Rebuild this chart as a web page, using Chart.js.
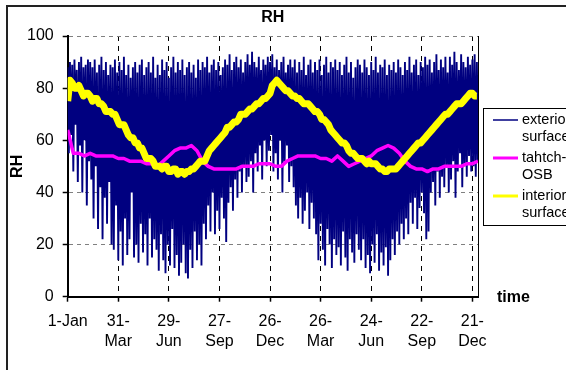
<!DOCTYPE html>
<html>
<head>
<meta charset="utf-8">
<title>RH</title>
<script src="https://cdn.jsdelivr.net/npm/chart.js@4.4.1/dist/chart.umd.min.js"></script>
<style>
  html, body { margin: 0; padding: 0; background: #fff; overflow: hidden; }
  #wrap { position: relative; width: 566px; height: 370px; overflow: hidden; }
  #frame { position: absolute; left: 6px; top: 5px; width: 700px; height: 500px; border: 2px solid #222; box-sizing: border-box; }
  #rhChart { position: absolute; left: 0; top: 0; }
</style>
</head>
<body>
<div id="wrap">
  <div id="frame"></div>
  <canvas id="rhChart" width="566" height="370"></canvas>
</div>
<script>
// Series names and legend wrapping
const seriesNames = ["exterior surface", "tahtch-OSB", "interior surface"];
const legendLines = [["exterior", "surface"], ["tahtch-", "OSB"], ["interior", "surface"]];
const seriesColors = ["#000080", "#FF00FF", "#FFFF00"];

// Time axis: days since 1-Jan, one tick every 90 days
const tickDays = [0, 90, 180, 270, 360, 450, 540, 630, 720];
const tickLabels = [["1-Jan"], ["31-", "Mar"], ["29-", "Jun"], ["27-", "Sep"], ["26-", "Dec"],
                    ["26-", "Mar"], ["24-", "Jun"], ["22-", "Sep"], ["21-", "Dec"]];
const yTicks = [0, 20, 40, 60, 80, 100];

// exterior surface RH, read every 2 days (swinging between night highs and day lows)
const exteriorStep = 2;
const exteriorRH = [
  88,55,90,62,89,48,91,66,87,44,90,58,92,40,88,60,89,35,91,52,
  90,45,88,30,91,50,86,26,89,42,92,22,87,38,90,28,85,44,89,20,
  88,18,91,35,86,14,90,25,87,12,92,30,85,16,89,22,84,40,88,15,
  90,20,86,13,89,28,91,17,85,24,88,12,90,30,86,15,92,22,84,18,
  89,10,85,24,91,14,87,9,90,20,84,12,88,26,92,11,86,16,90,8,
  87,13,91,20,85,9,88,7,90,18,86,11,89,25,84,14,91,20,87,12,
  90,28,88,22,92,35,86,25,89,40,91,24,87,33,90,26,85,38,88,30,
  91,21,89,36,93,42,87,33,90,45,92,38,88,48,91,40,86,50,90,44,
  93,46,89,52,94,40,90,55,88,48,92,58,87,45,91,60,89,50,92,56,
  90,62,93,48,88,55,91,45,87,60,90,40,92,52,86,58,89,44,91,50,
  88,42,91,35,86,30,90,38,87,28,92,33,85,40,89,26,91,36,86,30,
  90,24,87,14,91,28,85,18,89,12,92,26,86,20,90,11,88,22,91,16,
  87,19,90,12,85,25,89,15,92,10,86,22,90,17,84,13,88,24,91,18,
  89,14,86,22,91,11,88,16,85,9,90,20,87,13,92,24,86,10,89,17,
  88,12,91,19,85,8,89,14,87,22,90,16,86,25,91,20,88,28,85,22,
  90,30,87,24,92,36,86,28,89,38,91,26,85,34,90,40,88,32,92,22,
  89,25,91,40,86,44,90,35,93,48,87,38,91,46,88,42,92,50,86,40,
  92,45,89,52,94,38,90,48,87,55,93,42,90,50,88,46,92,54,89,48,
  91,50,93,46,90,52
];

// tahtch-OSB RH, every 10 days
const osbStep = 10;
const osbRH = [
  64,55,55,54,55,54,54,54,54,53,53,52,52,52,51,51,50,52,54,56,
  57,57,58,56,52,50,49,49,49,49,49,50,50,50,51,51,51,50,50,52,
  53,54,54,54,54,53,53,52,54,52,50,51,52,53,54,56,57,58,57,55,
  52,50,49,49,48,49,49,50,50,50,50,51,51,52
];

// interior surface RH, every 4 days
const interiorStep = 4;
const interiorRH = [
  75,83,82,80,80,81,79,77,78,78,77,75,76,76,74,74,73,71,71,71,70,70,68,66,66,66,64,62,61,61,59,59,57,57,55,53,53,53,52,50,
  50,50,49,50,50,48,48,49,49,47,48,48,47,48,48,49,49,50,51,52,52,52,54,56,57,58,59,60,61,62,63,65,65,66,67,67,68,70,70,70,
  71,72,72,73,74,74,75,76,76,77,78,81,82,83,82,81,80,79,79,78,77,77,76,76,75,74,74,74,73,72,71,71,70,68,68,67,66,64,63,62,
  61,60,59,59,58,56,55,55,54,53,53,53,52,51,52,51,51,51,50,49,49,48,48,49,49,49,49,50,51,52,53,54,55,56,57,58,59,59,60,61,
  62,63,64,65,66,67,68,69,70,70,71,72,73,74,74,74,75,76,77,78,78,77,77
];

const chartTitle = "RH";
const yTitle = "RH";
const xTitle = "time";

function toPoints(step, values) {
  return values.map((v, i) => ({ x: i * step, y: v }));
}

const FONT = '"Liberation Sans", Arial, sans-serif';

// Title, axis titles, right frame line and legend
const chartDecor = {
  id: "chartDecor",
  afterDraw(chart) {
    const { ctx, chartArea } = chart;
    ctx.save();

    // right edge of plot area
    ctx.strokeStyle = "#000";
    ctx.lineWidth = 1;
    ctx.beginPath();
    ctx.moveTo(Math.round(chartArea.right) + 0.5, chartArea.top);
    ctx.lineTo(Math.round(chartArea.right) + 0.5, chartArea.bottom);
    ctx.stroke();

    ctx.fillStyle = "#000";
    ctx.textBaseline = "middle";
    ctx.font = "bold 16px " + FONT;
    ctx.textAlign = "center";
    ctx.fillText(chartTitle, (chartArea.left + chartArea.right) / 2, 18);

    ctx.save();
    ctx.translate(18, (chartArea.top + chartArea.bottom) / 2);
    ctx.rotate(-Math.PI / 2);
    ctx.fillText(yTitle, 0, 0);
    ctx.restore();

    ctx.textAlign = "left";
    ctx.fillText(xTitle, 497, 298);

    // legend
    ctx.lineWidth = 1;
    ctx.strokeStyle = "#000";
    ctx.strokeRect(483.5, 108.5, 140, 117);
    ctx.font = "14.5px " + FONT;
    const rowY = [120, 158, 196];
    const sampleWidths = [1.5, 3, 3];
    legendLines.forEach((lines, i) => {
      ctx.strokeStyle = seriesColors[i];
      ctx.lineWidth = sampleWidths[i];
      ctx.beginPath();
      ctx.moveTo(493, rowY[i]);
      ctx.lineTo(518, rowY[i]);
      ctx.stroke();
      lines.forEach((t, j) => ctx.fillText(t, 522, rowY[i] + j * 17));
    });

    ctx.restore();
  },
};

const ctx = document.getElementById("rhChart").getContext("2d");
new Chart(ctx, {
  type: "line",
  data: {
    datasets: [
      {
        label: seriesNames[0],
        data: toPoints(exteriorStep, exteriorRH),
        borderColor: seriesColors[0],
        borderWidth: 1.9,
        borderJoinStyle: "bevel",
        pointRadius: 0,
        tension: 0,
        order: 3,
      },
      {
        label: seriesNames[1],
        data: toPoints(osbStep, osbRH),
        borderColor: seriesColors[1],
        borderWidth: 3.5,
        borderJoinStyle: "round",
        pointRadius: 0,
        tension: 0,
        order: 2,
      },
      {
        label: seriesNames[2],
        data: toPoints(interiorStep, interiorRH),
        borderColor: seriesColors[2],
        borderWidth: 7,
        borderJoinStyle: "round",
        pointRadius: 0,
        tension: 0,
        order: 1,
      },
    ],
  },
  options: {
    responsive: false,
    animation: false,
    events: [],
    layout: { padding: { top: 36, left: 0, right: 88, bottom: 0 } },
    plugins: {
      legend: { display: false },
      tooltip: { enabled: false },
      title: { display: false },
    },
    scales: {
      x: {
        type: "linear",
        min: 0,
        max: 730,
        afterFit: (scale) => { scale.height = 73.3; },
        afterBuildTicks: (scale) => { scale.ticks = tickDays.map((d) => ({ value: d })); },
        ticks: {
          color: "#000",
          padding: 10,
          maxRotation: 0,
          autoSkip: false,
          font: { family: FONT, size: 16, lineHeight: 1.25 },
          callback: (value, index) => tickLabels[index],
        },
        grid: {
          color: "#000",
          lineWidth: 1,
          tickLength: 5,
          tickColor: "#000",
          tickWidth: 1.5,
          tickBorderDash: [],
        },
        border: { display: true, color: "#000", width: 2, dash: [5, 5] },
      },
      y: {
        min: 0,
        max: 100,
        afterFit: (scale) => { scale.width = 67.7; },
        afterBuildTicks: (scale) => { scale.ticks = yTicks.map((v) => ({ value: v })); },
        ticks: {
          color: "#000",
          padding: 9,
          font: { family: FONT, size: 16 },
        },
        grid: {
          color: "#808080",
          lineWidth: 1,
          tickLength: 5,
          tickColor: "#000",
          tickWidth: 1.5,
          tickBorderDash: [],
        },
        border: { display: true, color: "#000", width: 2, dash: [4, 4] },
      },
    },
  },
  plugins: [chartDecor],
});
</script>
</body>
</html>
